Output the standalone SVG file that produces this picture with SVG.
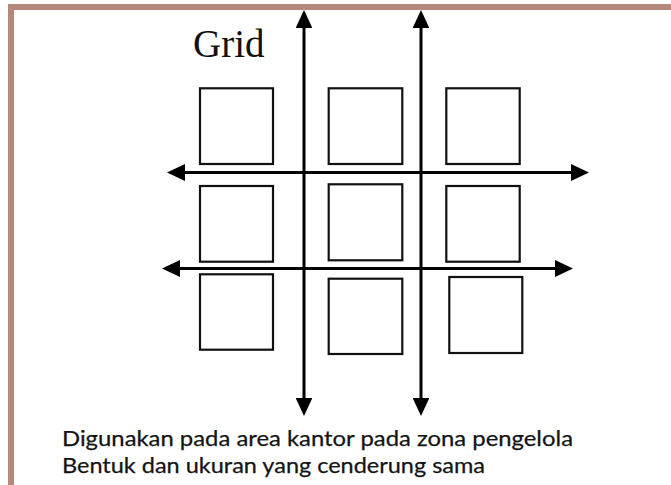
<svg xmlns="http://www.w3.org/2000/svg" width="671" height="485" viewBox="0 0 671 485">
  <style>
    .frame { stroke: #b4887a; stroke-width: 6; fill: none; }
    .box { fill: none; stroke: #111; stroke-width: 2.2; }
    .axis { stroke: #000; stroke-width: 3; fill: none; }
    .title { font-family: "Liberation Serif", "Times New Roman", serif; font-size: 39px; fill: #111; }
    .caption { font-family: Lato, "Noto Sans", sans-serif; font-size: 22px; fill: #141414; stroke: #141414; stroke-width: 0.25; }
  </style>
  <defs>
    <!-- arrowhead whose base sits on the line end -->
    <marker id="head" viewBox="0 0 10 10" refX="0" refY="5" markerWidth="6" markerHeight="5.6" markerUnits="strokeWidth" orient="auto-start-reverse" preserveAspectRatio="none">
      <path d="M0,0 L10,5 L0,10 z" fill="#000"/>
    </marker>
  </defs>

  <rect width="671" height="485" fill="#ffffff"/>

  <!-- page frame: top and left edges -->
  <g id="frame">
    <path class="frame" d="M11,485 L11,7 L671,7"/>
  </g>

  <g id="title">
    <text class="title" x="193" y="57">Grid</text>
  </g>

  <!-- grid lines with arrowheads on both ends -->
  <g id="connectors">
    <line class="axis" x1="304" y1="398" x2="304" y2="28" marker-start="url(#head)" marker-end="url(#head)"/>
    <line class="axis" x1="421" y1="398" x2="421" y2="28" marker-start="url(#head)" marker-end="url(#head)"/>
    <line class="axis" x1="185" y1="172.5" x2="571" y2="172.5" marker-start="url(#head)" marker-end="url(#head)"/>
    <line class="axis" x1="180" y1="268.5" x2="555" y2="268.5" marker-start="url(#head)" marker-end="url(#head)"/>
  </g>

  <!-- row 1 -->
  <g id="box-1-1"><rect class="box" x="200" y="88.3" width="73" height="75.7"/></g>
  <g id="box-1-2"><rect class="box" x="328.7" y="88.3" width="73.6" height="75.7"/></g>
  <g id="box-1-3"><rect class="box" x="446.3" y="88.3" width="73.4" height="75.7"/></g>
  <!-- row 2 -->
  <g id="box-2-1"><rect class="box" x="200" y="186" width="73" height="75.7"/></g>
  <g id="box-2-2"><rect class="box" x="328.7" y="184.3" width="73.6" height="76"/></g>
  <g id="box-2-3"><rect class="box" x="446.3" y="186" width="73.4" height="75.7"/></g>
  <!-- row 3 -->
  <g id="box-3-1"><rect class="box" x="200" y="274.3" width="73" height="75.4"/></g>
  <g id="box-3-2"><rect class="box" x="328.7" y="278.7" width="73.6" height="75.3"/></g>
  <g id="box-3-3"><rect class="box" x="449.3" y="277" width="73" height="76"/></g>

  <g id="caption">
    <text class="caption" x="62" y="446" textLength="511" lengthAdjust="spacingAndGlyphs">Digunakan pada area kantor pada zona pengelola</text>
    <text class="caption" x="62" y="473" textLength="423" lengthAdjust="spacingAndGlyphs">Bentuk dan ukuran yang cenderung sama</text>
  </g>
</svg>
